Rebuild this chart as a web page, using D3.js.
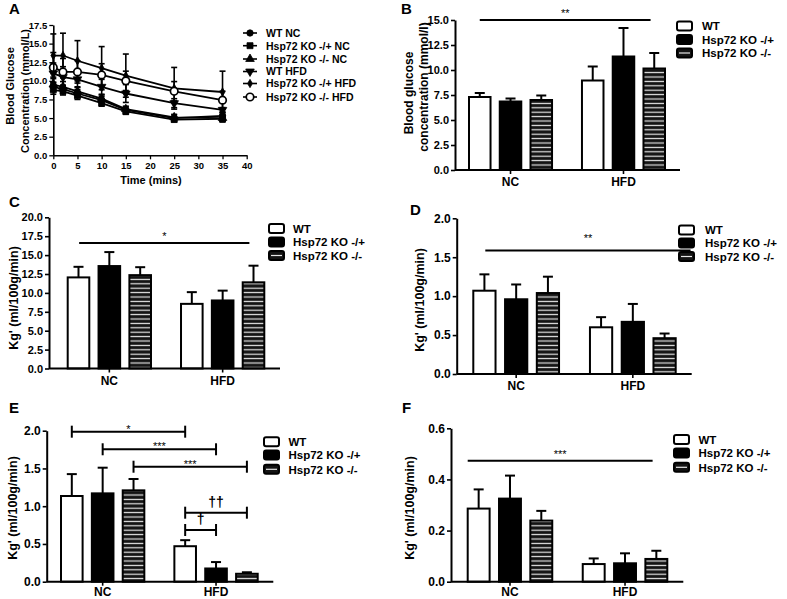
<!DOCTYPE html>
<html><head><meta charset="utf-8">
<script src="https://cdn.jsdelivr.net/npm/d3@7"></script>
<style>
body{margin:0;background:#fff}
svg{display:block;font-family:"Liberation Sans",Arial,sans-serif;font-weight:bold}
text{fill:#000}
</style>
</head><body>
<svg id="c" width="787" height="599"></svg>
<script>
// ---------- DATA ----------
const groups = ["NC", "HFD"];
const genotypes = ["WT", "Hsp72 KO -/+", "Hsp72 KO -/-"];

// Panel A: glucose tolerance curves
const times = [0, 2, 5, 10, 15, 25, 35];
const lineNames = ["WT NC", "Hsp72 KO -/+ NC", "Hsp72 KO -/- NC", "WT HFD", "Hsp72 KO -/+ HFD", "Hsp72 KO -/- HFD"];
const wtNC      = [9.2, 8.9, 8.3, 7.4, 6.1, 5.0, 5.3];
const koHetNC   = [8.8, 8.6, 8.0, 7.0, 5.9, 4.8, 4.9];
const koHomNC   = [9.5, 9.2, 8.6, 7.6, 6.2, 5.1, 5.0];
const wtHFD     = [11.0, 10.5, 10.2, 9.2, 8.3, 7.0, 6.1];
const koHetHFD  = [13.4, 13.4, 12.7, 11.7, 10.7, 9.0, 8.5];
const koHomHFD  = [11.8, 11.2, 11.2, 10.8, 10.0, 8.6, 7.4];
const wtNCErr     = [0.6, 0.5, 0.5, 0.5, 0.4, 0.4, 0.5];
const koHetNCErr  = [0.6, 0.5, 0.5, 0.4, 0.4, 0.3, 0.4];
const koHomNCErr  = [0.8, 0.7, 0.6, 0.5, 0.4, 0.4, 0.5];
const wtHFDErr    = [1.4, 1.4, 1.1, 1.0, 1.2, 0.6, 0.3];
const koHetHFDErr = [2.9, 3.0, 2.7, 2.9, 2.9, 2.8, 2.8];
const koHomHFDErr = [2.0, 1.8, 1.5, 1.5, 1.3, 1.3, 1.2];
const aYTicks = [0, 2.5, 5, 7.5, 10, 12.5, 15, 17.5];
const aXTicks = [0, 5, 10, 15, 20, 25, 30, 35, 40];

// Panel B: blood glucose
const glucoseNC = [7.3, 6.85, 7.0];
const glucoseHFD = [8.95, 11.35, 10.15];
const glucoseErrNC = [0.4, 0.3, 0.45];
const glucoseErrHFD = [1.4, 2.85, 1.55];
const bTicks = [0, 2.5, 5, 7.5, 10, 12.5, 15];

// Panel C
const cNC = [12.05, 13.55, 12.35];
const cHFD = [8.55, 9.0, 11.4];
const cErrNC = [1.4, 1.85, 1.05];
const cErrHFD = [1.55, 1.3, 2.2];
const cTicks = [0, 2.5, 5, 7.5, 10, 12.5, 15, 17.5, 20];

// Panel D
const dNC = [1.07, 0.96, 1.04];
const dHFD = [0.60, 0.67, 0.46];
const dErrNC = [0.21, 0.19, 0.21];
const dErrHFD = [0.13, 0.23, 0.06];
const dTicks = [0, 0.5, 1.0, 1.5, 2.0];

// Panel E
const eNC = [1.135, 1.17, 1.21];
const eHFD = [0.47, 0.175, 0.105];
const eErrNC = [0.29, 0.34, 0.15];
const eErrHFD = [0.08, 0.085, 0.02];
const eTicks = [0, 0.5, 1.0, 1.5, 2.0];

// Panel F
const fNC = [0.286, 0.325, 0.239];
const fHFD = [0.069, 0.072, 0.089];
const fErrNC = [0.075, 0.09, 0.038];
const fErrHFD = [0.022, 0.039, 0.032];
const fTicks = [0, 0.2, 0.4, 0.6];

// Significance annotations
const bSig = {value: 15.0, label: "**"};
const cSig = {value: 16.6, label: "*"};
const dSig = {value: 1.585, label: "**"};
const fSig = {value: 0.473, label: "***"};
const eBrackets = [
  {from: ["NC", "WT"], to: ["HFD", "WT"], value: 1.987, label: "*"},
  {from: ["NC", "Hsp72 KO -/+"], to: ["HFD", "Hsp72 KO -/+"], value: 1.754, label: "***"},
  {from: ["NC", "Hsp72 KO -/-"], to: ["HFD", "Hsp72 KO -/-"], value: 1.523, label: "***"},
  {from: ["HFD", "WT"], to: ["HFD", "Hsp72 KO -/-"], value: 0.914, label: "††"},
  {from: ["HFD", "WT"], to: ["HFD", "Hsp72 KO -/+"], value: 0.685, label: "†"}
];

// ---------- DRAW ----------
const svg = d3.select("#c");
const defs = svg.append("defs");
const pat = defs.append("pattern").attr("id", "hatch").attr("patternUnits", "userSpaceOnUse")
  .attr("width", 8).attr("height", 4.4);
pat.append("rect").attr("width", 8).attr("height", 4.4).attr("fill", "#141414");
pat.append("rect").attr("y", 1.6).attr("width", 8).attr("height", 1.2).attr("fill", "#e8e8e8");

const fills = ["#fff", "#000", "url(#hatch)"];

function styleAxis(sel, fs, sw) {
  sel.select(".domain").attr("stroke", "#000").attr("stroke-width", sw);
  sel.selectAll(".tick line").attr("stroke", "#000").attr("stroke-width", sw * 0.8);
  sel.selectAll(".tick text").attr("fill", "#000").attr("font-size", fs)
    .attr("font-family", '"Liberation Sans",Arial,sans-serif').attr("font-weight", "bold");
}

function panelLabel(t, x, y) {
  svg.append("text").attr("x", x).attr("y", y).attr("font-size", 15).text(t);
}

function yTitle(lines, xs, cy, fs) {
  lines.forEach((t, i) => {
    svg.append("text").attr("transform", `translate(${xs[i]},${cy[i]}) rotate(-90)`)
      .attr("text-anchor", "middle").attr("font-size", fs).text(t);
  });
}

function barLegend(x, ys, tx, fs) {
  genotypes.forEach((name, k) => {
    const g = svg.append("g");
    g.append("rect").attr("x", x).attr("y", ys[k] - 4.5).attr("width", 15).attr("height", 9)
      .attr("rx", 2).attr("fill", k === 2 ? "#141414" : fills[k]).attr("stroke", "#000").attr("stroke-width", 2);
    if (k === 2) g.append("line").attr("x1", x + 2).attr("x2", x + 13).attr("y1", ys[k]).attr("y2", ys[k])
      .attr("stroke", "#e8e8e8").attr("stroke-width", 1.2);
    svg.append("text").attr("x", tx).attr("y", ys[k] + 4.2).attr("font-size", fs).text(name);
  });
}

function barPanel(p) {
  const y = d3.scaleLinear().domain([0, p.yMax]).range([p.yBot, p.yTop]);
  const xg = d3.scaleBand().domain(groups).range([p.barL, p.barR]).paddingInner(0.265).paddingOuter(0);
  const xi = d3.scaleBand().domain(genotypes).range([0, xg.bandwidth()]).paddingInner(0.3).paddingOuter(0);
  const rows = [];
  groups.forEach((gr, gi) => genotypes.forEach((ge, k) =>
    rows.push({gr, ge, k, v: p.means[gi][k], e: p.errs[gi][k]})));
  const g = svg.append("g");
  const cx = d => xg(d.gr) + xi(d.ge) + xi.bandwidth() / 2;
  // error bars
  g.selectAll(".eb").data(rows).join("line")
    .attr("x1", cx).attr("x2", cx).attr("y1", d => y(d.v)).attr("y2", d => y(d.v + d.e))
    .attr("stroke", "#000").attr("stroke-width", 2);
  g.selectAll(".cap").data(rows).join("line")
    .attr("x1", d => cx(d) - 5).attr("x2", d => cx(d) + 5)
    .attr("y1", d => y(d.v + d.e)).attr("y2", d => y(d.v + d.e))
    .attr("stroke", "#000").attr("stroke-width", 2);
  // bars
  g.selectAll(".bar").data(rows).join("rect")
    .attr("x", d => xg(d.gr) + xi(d.ge)).attr("width", xi.bandwidth())
    .attr("y", d => y(d.v)).attr("height", d => p.yBot - y(d.v))
    .attr("fill", d => fills[d.k]).attr("stroke", "#000").attr("stroke-width", 2);
  // y axis
  const ya = svg.append("g").attr("transform", `translate(${p.x0},0)`)
    .call(d3.axisLeft(y).tickValues(p.ticks).tickFormat(d3.format(".1f")).tickSize(4).tickSizeOuter(0).tickPadding(2));
  styleAxis(ya, p.tfs, 2);
  // x axis
  svg.append("line").attr("x1", p.x0).attr("x2", p.x1).attr("y1", p.yBot).attr("y2", p.yBot)
    .attr("stroke", "#000").attr("stroke-width", 2);
  const xa = svg.append("g").attr("transform", `translate(0,${p.yBot})`)
    .call(d3.axisBottom(xg).tickSize(4).tickPadding(p.xPad));
  xa.select(".domain").remove();
  styleAxis(xa, 12, 2);
  const pos = (gr, ge, f) => xg(gr) + xi(ge) + f * xi.bandwidth();
  // significance line
  if (p.sig) {
    const yy = y(p.sig.value);
    const xa1 = pos(p.sigFrom[0], p.sigFrom[1], p.sigFrom[2]);
    const xa2 = pos(p.sigTo[0], p.sigTo[1], p.sigTo[2]);
    svg.append("line").attr("x1", xa1).attr("x2", xa2).attr("y1", yy).attr("y2", yy)
      .attr("stroke", "#000").attr("stroke-width", 2);
    svg.append("text").attr("x", (xa1 + xa2) / 2).attr("y", yy - p.sigDy).attr("text-anchor", "middle")
      .attr("font-size", 11).attr("font-weight", "normal").text(p.sig.label);
  }
  if (p.brackets) {
    p.brackets.forEach((b, i) => {
      const yy = y(b.value);
      const x1 = pos(b.from[0], b.from[1], 0.5), x2 = pos(b.to[0], b.to[1], 0.5);
      const bg = svg.append("g").attr("stroke", "#000").attr("stroke-width", 2);
      bg.append("line").attr("x1", x1).attr("x2", x2).attr("y1", yy).attr("y2", yy);
      bg.append("line").attr("x1", x1).attr("x2", x1).attr("y1", yy - 6).attr("y2", yy + 6);
      bg.append("line").attr("x1", x2).attr("x2", x2).attr("y1", yy - 6).attr("y2", yy + 6);
      const dag = b.label.includes("†");
      svg.append("text").attr("x", (x1 + x2) / 2).attr("y", yy - (dag ? 5.5 : -1))
        .attr("text-anchor", "middle").attr("font-size", dag ? 14 : 11)
        .attr("font-weight", dag ? "bold" : "normal").text(b.label);
    });
  }
}

// ---------- Panel A ----------
(function () {
  const x = d3.scaleLinear().domain([0, 40]).range([53.3, 246.7]);
  const y = d3.scaleLinear().domain([0, 17.5]).range([155.3, 25]);
  const series = [
    {name: lineNames[0], v: wtNC, e: wtNCErr, sym: d3.symbolCircle, size: 32, open: false, rot: 0},
    {name: lineNames[1], v: koHetNC, e: koHetNCErr, sym: d3.symbolSquare, size: 36, open: false, rot: 0},
    {name: lineNames[2], v: koHomNC, e: koHomNCErr, sym: d3.symbolTriangle, size: 32, open: false, rot: 0},
    {name: lineNames[3], v: wtHFD, e: wtHFDErr, sym: d3.symbolTriangle, size: 32, open: false, rot: 180},
    {name: lineNames[4], v: koHetHFD, e: koHetHFDErr, sym: d3.symbolDiamond, size: 20, open: false, rot: 0},
    {name: lineNames[5], v: koHomHFD, e: koHomHFDErr, sym: d3.symbolCircle, size: 44, open: true, rot: 0}
  ];
  const g = svg.append("g");
  series.forEach(s => {
    const pts = times.map((t, i) => ({t, v: s.v[i], e: s.e[i]}));
    const eg = g.append("g").attr("stroke", "#000").attr("stroke-width", 1.6);
    pts.forEach(d => {
      eg.append("line").attr("x1", x(d.t)).attr("x2", x(d.t)).attr("y1", y(d.v - d.e)).attr("y2", y(d.v + d.e));
      eg.append("line").attr("x1", x(d.t) - 3).attr("x2", x(d.t) + 3).attr("y1", y(d.v + d.e)).attr("y2", y(d.v + d.e));
      eg.append("line").attr("x1", x(d.t) - 3).attr("x2", x(d.t) + 3).attr("y1", y(d.v - d.e)).attr("y2", y(d.v - d.e));
    });
    g.append("path").datum(pts).attr("fill", "none").attr("stroke", "#000").attr("stroke-width", 1.8)
      .attr("d", d3.line().x(d => x(d.t)).y(d => y(d.v)));
    g.selectAll(null).data(pts).join("path")
      .attr("transform", d => `translate(${x(d.t)},${y(d.v)}) rotate(${s.rot})`)
      .attr("d", d3.symbol().type(s.sym).size(s.size))
      .attr("fill", s.open ? "#fff" : "#000").attr("stroke", "#000").attr("stroke-width", s.open ? 1.7 : 0.8);
  });
  const ya = svg.append("g").attr("transform", "translate(53.3,0)")
    .call(d3.axisLeft(y).tickValues(aYTicks).tickFormat(d3.format(".1f")).tickSize(4).tickSizeOuter(0).tickPadding(2));
  styleAxis(ya, 9.5, 1.6);
  const xa = svg.append("g").attr("transform", "translate(0,155.3)")
    .call(d3.axisBottom(x).tickValues(aXTicks).tickSize(4).tickSizeOuter(0).tickPadding(3));
  styleAxis(xa, 9.5, 1.6);
  svg.append("text").attr("x", 151).attr("y", 184).attr("text-anchor", "middle").attr("font-size", 11).text("Time (mins)");
  yTitle(["Blood Glucose", "Concentration (mmol/L)"], [14, 29], [86, 91], 11);
  panelLabel("A", 9, 14);
  // legend
  const ly = [33, 45.7, 59, 71.5, 83.5, 97];
  series.forEach((s, i) => {
    svg.append("line").attr("x1", 243).attr("x2", 257).attr("y1", ly[i]).attr("y2", ly[i])
      .attr("stroke", "#000").attr("stroke-width", 1.6);
    svg.append("path").attr("transform", `translate(250,${ly[i]}) rotate(${s.rot})`)
      .attr("d", d3.symbol().type(s.sym).size(s.size))
      .attr("fill", s.open ? "#fff" : "#000").attr("stroke", "#000").attr("stroke-width", s.open ? 1.7 : 0.8);
    svg.append("text").attr("x", 266).attr("y", ly[i] + 3.8).attr("font-size", 10.5).text(s.name);
  });
})();

// ---------- Panel B ----------
barPanel({x0: 455, x1: 680, yTop: 20, yBot: 170, barL: 469, barR: 665, yMax: 15, ticks: bTicks, tfs: 11, xPad: 3,
  means: [glucoseNC, glucoseHFD], errs: [glucoseErrNC, glucoseErrHFD],
  sig: bSig, sigFrom: ["NC", "WT", 0.5], sigTo: ["HFD", "Hsp72 KO -/-", 0.33], sigDy: 3});
yTitle(["Blood glucose", "concentration (mmol/l)"], [413, 427.5], [93, 87], 12);
panelLabel("B", 401, 14);
barLegend(677, [26, 39.5, 53], 702, 11.5);

// ---------- Panel C ----------
barPanel({x0: 49, x1: 280, yTop: 217.3, yBot: 368.5, barL: 67.7, barR: 264.3, yMax: 20, ticks: cTicks, tfs: 11, xPad: 4,
  means: [cNC, cHFD], errs: [cErrNC, cErrHFD],
  sig: cSig, sigFrom: ["NC", "WT", 0.53], sigTo: ["HFD", "Hsp72 KO -/-", 0.31], sigDy: 3});
yTitle(["Kg' (ml/100g/min)"], [18], [298], 12.5);
panelLabel("C", 9, 207);
barLegend(269, [228.5, 242, 255.5], 293, 11.5);

// ---------- Panel D ----------
barPanel({x0: 456.7, x1: 691.7, yTop: 218.3, yBot: 374, barL: 473.3, barR: 675.7, yMax: 2, ticks: dTicks, tfs: 12, xPad: 3,
  means: [dNC, dHFD], errs: [dErrNC, dErrHFD],
  sig: dSig, sigFrom: ["NC", "WT", 0.54], sigTo: ["HFD", "Hsp72 KO -/-", 1.67], sigDy: 9});
yTitle(["Kg' (ml/100g/min)"], [424], [300], 12.5);
panelLabel("D", 410, 215);
barLegend(679, [230, 243, 256.5], 705, 11.5);

// ---------- Panel E ----------
barPanel({x0: 46.7, x1: 273.3, yTop: 430.7, yBot: 581.7, barL: 61, barR: 257.7, yMax: 2, ticks: eTicks, tfs: 12, xPad: 1.5,
  means: [eNC, eHFD], errs: [eErrNC, eErrHFD], brackets: eBrackets});
yTitle(["Kg' (ml/100g/min)"], [17], [508], 12.5);
panelLabel("E", 9, 413);
barLegend(264, [441.7, 455, 469.3], 288.5, 11.5);

// ---------- Panel F ----------
barPanel({x0: 451, x1: 683.3, yTop: 428.3, yBot: 581.7, barL: 467.7, barR: 667.3, yMax: 0.6, ticks: fTicks, tfs: 12, xPad: 1.5,
  means: [fNC, fHFD], errs: [fErrNC, fErrHFD],
  sig: fSig, sigFrom: ["NC", "WT", 0], sigTo: ["HFD", "Hsp72 KO -/-", 0.33], sigDy: 3});
yTitle(["Kg' (ml/100g/min)"], [414], [508], 12.5);
panelLabel("F", 402, 413);
barLegend(674, [439.5, 453, 467.3], 698.5, 11.5);
</script>
</body></html>
